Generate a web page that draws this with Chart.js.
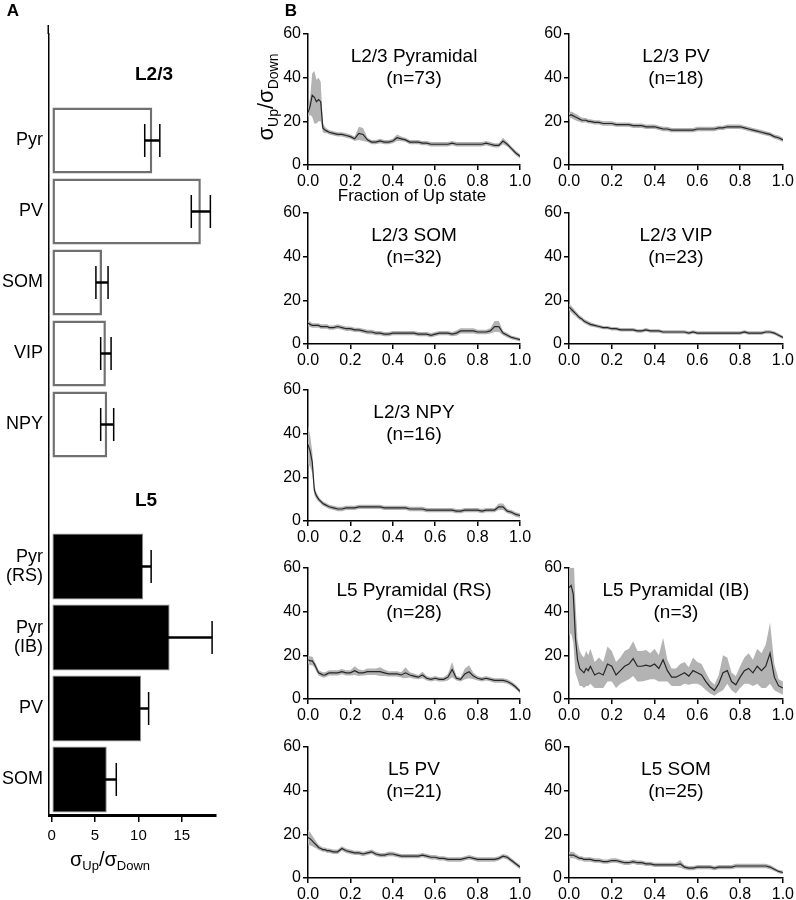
<!DOCTYPE html>
<html>
<head>
<meta charset="utf-8">
<script src="https://cdn.jsdelivr.net/npm/chart.js@4.4.1/dist/chart.umd.min.js"></script>
<style>
  html, body { margin: 0; padding: 0; background: #fff; }
  #wrap { position: relative; width: 796px; height: 900px; overflow: hidden; background: #fff; }
  #wrap canvas { position: absolute; }
</style>
</head>
<body>
<div id="wrap"></div>
<script>
const FONT = '"Liberation Sans", Arial, Helvetica, sans-serif';

// ---- panel A: mean sigma ratio per cell type ----
const l23Cells = ['Pyr', 'PV', 'SOM', 'VIP', 'NPY'];
const l23Ratio = [11.6, 17.2, 5.8, 6.25, 6.4];
const l23Sem = [0.87, 1.1, 0.7, 0.6, 0.75];
const l5Cells = [['Pyr', '(RS)'], ['Pyr', '(IB)'], 'PV', 'SOM'];
const l5Ratio = [10.55, 13.6, 10.3, 6.35];
const l5Sem = [0.92, 4.9, 0.88, 1.1];
const groupNames = ['L2/3', 'L5'];
const ratioTicks = [0, 5, 10, 15];

// ---- panel B: ratio along the Up state ----
const fraction = [0, 0.01, 0.02, 0.03, 0.04, 0.05, 0.06, 0.07, 0.08, 0.09, 0.10,
  0.12, 0.14, 0.16, 0.18, 0.20, 0.22, 0.24, 0.26, 0.28, 0.30,
  0.32, 0.34, 0.36, 0.38, 0.40, 0.42, 0.44, 0.46, 0.48, 0.50,
  0.52, 0.54, 0.56, 0.58, 0.60, 0.62, 0.64, 0.66, 0.68, 0.70,
  0.72, 0.74, 0.76, 0.78, 0.80, 0.82, 0.84, 0.86, 0.88, 0.90,
  0.92, 0.94, 0.96, 0.98, 1.00];
const fractionTicks = [0, 0.2, 0.4, 0.6, 0.8, 1.0];
const sigmaTicks = [0, 10, 20, 30, 40, 50, 60];

const pyrMean = [24, 27, 32, 31, 29, 30, 29, 17, 16, 15.5, 15,
  14.5, 14, 14, 13.5, 13, 12, 14.5, 14, 11.5, 10.5,
  10.5, 11, 10.5, 10.5, 11, 12.5, 12, 11.5, 10.5, 10.5,
  10.5, 10, 10, 9.5, 9.5, 9.5, 9.5, 9.5, 10, 9.5,
  9.5, 9.5, 9.5, 9.5, 9.5, 9.5, 10, 9.5, 9, 9,
  11, 9.5, 7.5, 5.5, 4];
const pyrSem = [2, 4, 10, 12, 10, 10, 9, 2, 1.5, 1, 1,
  1, 1, 1, 1, 1, 1, 3, 3, 1, 1,
  1, 1, 1, 1, 1, 1.5, 1, 1, 1, 1,
  1, 1, 1, 1, 1, 1, 1, 1, 1, 1,
  1, 1, 1, 1, 1, 1, 1, 1, 1, 1,
  1.5, 1, 1, 1, 1];

const pvMean = [22.5, 23, 22.5, 22, 21.5, 21, 20.5, 20.5, 20.5, 20, 20,
  19.5, 19.5, 19, 19, 19, 18.5, 18.5, 18.5, 18.5, 18,
  18, 18, 17.5, 17.5, 17.5, 17, 16.5, 16.5, 16, 16,
  16, 16, 16, 16, 16.5, 16.5, 16.5, 16.5, 16.5, 17,
  17, 17.5, 17.5, 17.5, 17.5, 17, 16.5, 16, 15.5, 15,
  14.5, 14, 13, 12.5, 11.5];
const pvSem = [1.5, 1.5, 1.5, 1.5, 1.5, 1.2, 1.2, 1, 1, 1, 1,
  1, 1, 1, 1, 1, 1, 1, 1, 1, 1,
  1, 1, 1, 1, 1, 1, 1, 1, 1, 1,
  1, 1, 1, 1, 1, 1, 1, 1, 1, 1,
  1, 1, 1, 1, 1, 1, 1, 1, 1, 1,
  1, 1, 1, 1, 1];

const somMean = [9.5, 9, 8.5, 8.5, 8.5, 8.5, 8, 8, 8, 8, 7.5,
  7.5, 8, 7.5, 7, 7, 6.5, 6.5, 6, 5.5, 5.5,
  5, 5, 4.5, 4.5, 5, 5, 5, 5, 5, 5,
  4.5, 4.5, 4.5, 4, 4.5, 5, 5, 5, 4.5, 5,
  6, 6, 6, 6, 5.5, 5.5, 5.5, 6, 8, 8,
  5, 4, 3, 2.5, 2];
const somSem = [1.5, 1.2, 1, 1, 1, 1, 1, 1, 1, 1, 1,
  1, 1, 1, 1, 1, 1, 1, 1, 1, 1,
  1, 1, 1, 1, 1, 1, 1, 1, 1, 1,
  1, 1, 1, 1, 1, 1, 1, 1, 1, 1.2,
  1.2, 1.2, 1.2, 1.2, 1, 1, 1, 1.2, 2.5, 2.5,
  1, 1, 0.8, 0.8, 0.8];

const vipMean = [17, 16, 15, 14, 13, 12, 11.5, 10.5, 10, 9.5, 9,
  8.5, 8, 7.5, 7.5, 7, 7, 6.5, 6.5, 6.5, 6.5,
  6, 6, 6.5, 6, 6, 6, 5.5, 5.5, 5.5, 5.5,
  5.5, 5.5, 5, 5.5, 5, 5, 5, 5, 5, 5,
  5, 5, 5, 5, 5, 5.5, 5, 5, 5, 5,
  5.5, 5.5, 5, 4, 3];
const vipSem = [1.5, 1.5, 1.5, 1.2, 1.2, 1, 1, 1, 1, 1, 1,
  0.8, 0.8, 0.8, 0.8, 0.8, 0.8, 0.8, 0.8, 0.8, 0.8,
  0.8, 0.8, 0.8, 0.8, 0.8, 0.8, 0.8, 0.8, 0.8, 0.8,
  0.8, 0.8, 0.8, 0.8, 0.8, 0.8, 0.8, 0.8, 0.8, 0.8,
  0.8, 0.8, 0.8, 0.8, 0.8, 0.8, 0.8, 0.8, 0.8, 0.8,
  0.8, 0.8, 0.8, 0.8, 0.8];

const npyMean = [35, 32, 27, 14, 11.5, 10, 9, 8, 7.5, 7, 6.5,
  6, 5.5, 5.5, 6, 6, 6, 6.5, 6.5, 6.5, 6.5,
  6.5, 6.5, 6, 6, 6, 6, 6, 6, 5.5, 5.5,
  5.5, 5.5, 5, 5, 5, 5, 5, 5, 5, 4.5,
  4.5, 5, 5, 5, 5, 4.5, 5, 5, 5, 6.5,
  6.5, 4.5, 4, 3, 2.5];
const npySem = [9, 7, 5, 2, 1.5, 1.2, 1, 1, 1, 1, 1,
  1, 1, 1, 1, 1, 1, 1, 1, 1, 1,
  1, 1, 1, 1, 1, 1, 1, 1, 1, 1,
  1, 1, 1, 1, 1, 1, 1, 1, 1, 1,
  1, 1, 1, 1, 1, 1, 1, 1, 1, 1.5,
  1.5, 1, 1, 1, 1];

const rsMean = [18, 17.5, 17.5, 16, 14, 12, 11.5, 11, 11, 11.5, 12,
  12, 12, 12.5, 12, 12, 13, 12, 12, 12.5, 12.5,
  12.5, 12.5, 12, 11.5, 11.5, 11.5, 11, 12, 11, 10.5,
  10, 11, 9.5, 9, 9.5, 9, 9, 10, 13.5, 9.5,
  9, 11.5, 12.5, 10.5, 9.5, 9, 9.5, 9, 8.5, 8.5,
  8.5, 8, 7, 5.5, 3.5];
const rsSem = [2, 2, 2, 1.5, 1.5, 1.2, 1.2, 1.2, 1.2, 1.2, 1.2,
  1.2, 1.2, 1.2, 1.2, 1.2, 2, 1.5, 1.2, 1.5, 1.5,
  1.5, 2, 1.5, 1.2, 1.2, 1.2, 1.2, 2.5, 1.2, 1.2,
  1, 1.5, 1, 1, 1, 1, 1, 1.5, 3.5, 1,
  1, 2.5, 3, 1.5, 1, 1, 1, 1, 1, 1,
  1, 1, 1, 1, 1];

const ibMean = [51, 52, 48, 28, 18, 14, 13, 12, 14, 13, 15,
  11, 12, 11, 16, 15, 11, 13, 15, 16, 18.5,
  15, 15, 15.5, 15, 16, 14, 18, 13, 10, 10,
  11, 12, 10.5, 13, 12, 11, 8, 5.5, 4, 7,
  12, 13, 8, 6.5, 10, 13, 14, 12, 15, 13,
  15, 21, 10, 6, 5];
const ibSem = [22, 22, 22, 16, 9, 8, 7, 7, 8, 7, 8,
  6, 7, 6, 8, 7, 6, 6, 7, 7, 8,
  7, 7, 7, 6, 7, 6, 10, 5, 4, 4,
  5, 5, 4, 6, 5, 5, 4, 3, 2.5, 4,
  8, 6, 4, 4, 5, 6, 7, 6, 8, 8,
  10, 14, 6, 3, 3];

const l5pvMean = [18.5, 18, 17, 16, 15, 14, 13.5, 13, 13, 12.5, 12.5,
  12, 12, 13.5, 12.5, 12, 11.5, 11.5, 11, 11.5, 12,
  11, 10.5, 10.5, 11, 11, 10.5, 10, 10, 10, 10,
  10, 10.5, 10, 9.5, 9.5, 9, 9, 8.5, 8.5, 8.5,
  8.5, 9, 9.5, 9, 8.5, 8.5, 8.5, 8.5, 8.5, 9,
  10, 9.5, 8, 6.5, 5];
const l5pvSem = [3.5, 3, 2.5, 2, 1.5, 1.2, 1, 1, 1, 1, 1,
  1, 1, 1, 1, 1, 1, 1, 1, 1, 1,
  1, 1, 1, 1, 1, 1, 1, 1, 1, 1,
  1, 1, 1, 1, 1, 1, 1, 1, 1, 1,
  1, 1, 1, 1, 1, 1, 1, 1, 1, 1,
  1, 1, 1, 1, 1];

const l5somMean = [10.5, 10.5, 10.5, 10, 9.5, 9, 9, 8.5, 8.5, 8.5, 8.5,
  8, 8, 7.5, 7.5, 8, 8, 7.5, 7, 7, 7.5,
  7, 7, 6.5, 6.5, 6, 6, 6, 6, 6, 6,
  6.5, 5, 4.5, 4.5, 5, 5, 5, 5, 4.5, 5,
  5, 5, 5, 5.5, 5.5, 5.5, 5.5, 5.5, 5.5, 5.5,
  5.5, 5, 4, 3, 2.5];
const l5somSem = [1.5, 1.5, 1.5, 1.2, 1.2, 1, 1, 1, 1, 1, 1,
  1, 1, 1, 1, 1, 1, 1, 1, 1, 1,
  1, 1, 1, 1, 1, 1, 1, 1, 1, 1,
  1.8, 1, 1, 1, 1, 1, 1, 1, 1, 1,
  1, 1, 1, 1, 1, 1, 1, 1, 1, 1,
  1, 1, 0.8, 0.8, 0.8];

const cells = [
  { title: 'L2/3 Pyramidal', n: 73, mean: pyrMean, sem: pyrSem, col: 0, row: 0 },
  { title: 'L2/3 PV', n: 18, mean: pvMean, sem: pvSem, col: 1, row: 0 },
  { title: 'L2/3 SOM', n: 32, mean: somMean, sem: somSem, col: 0, row: 1 },
  { title: 'L2/3 VIP', n: 23, mean: vipMean, sem: vipSem, col: 1, row: 1 },
  { title: 'L2/3 NPY', n: 16, mean: npyMean, sem: npySem, col: 0, row: 2 },
  { title: 'L5 Pyramidal (RS)', n: 28, mean: rsMean, sem: rsSem, col: 0, row: 3 },
  { title: 'L5 Pyramidal (IB)', n: 3, mean: ibMean, sem: ibSem, col: 1, row: 3 },
  { title: 'L5 PV', n: 21, mean: l5pvMean, sem: l5pvSem, col: 0, row: 4 },
  { title: 'L5 SOM', n: 25, mean: l5somMean, sem: l5somSem, col: 1, row: 4 }
];

Chart.defaults.font.family = FONT;
Chart.defaults.color = '#000';

const wrap = document.getElementById('wrap');
function addCanvas(left, top, w, h) {
    const c = document.createElement('canvas');
    c.width = w;
    c.height = h;
    c.style.left = left + 'px';
    c.style.top = top + 'px';
    c.style.width = w + 'px';
    c.style.height = h + 'px';
    wrap.appendChild(c);
    return c;
}

// sigma_Up / sigma_Down with subscripts
function drawRatioLabel(ctx, x, y, size, rotate) {
    const big = `${size}px ${FONT}`;
    const small = `${Math.round(size * 0.64)}px ${FONT}`;
    const parts = [['σ', big, 0], ['Up', small, size * 0.32], ['/', big, 0], ['σ', big, 0], ['Down', small, size * 0.32]];
    ctx.save();
    ctx.translate(x, y);
    if (rotate) ctx.rotate(-Math.PI / 2);
    let w = 0;
    parts.forEach(p => { ctx.font = p[1]; w += ctx.measureText(p[0]).width; });
    let cx = -w / 2;
    ctx.fillStyle = '#000';
    ctx.textAlign = 'left';
    ctx.textBaseline = 'middle';
    parts.forEach(p => {
        ctx.font = p[1];
        ctx.fillText(p[0], cx, p[2]);
        cx += ctx.measureText(p[0]).width;
    });
    ctx.restore();
}

function drawText(ctx, text, x, y, font) {
    ctx.save();
    ctx.font = font;
    ctx.fillStyle = '#000';
    ctx.textAlign = 'center';
    ctx.textBaseline = 'middle';
    ctx.fillText(text, x, y);
    ctx.restore();
}

// ---------------- panel A ----------------
const barLabels = ['', ...l23Cells, '', ...l5Cells];
const barValues = [null, ...l23Ratio, null, ...l5Ratio];
const barErrors = [null, ...l23Sem, null, ...l5Sem];
const isL23 = barLabels.map((_, i) => i > 0 && i <= l23Cells.length);

const panelA = {
    id: 'panelA',
    afterDatasetsDraw(chart) {
        const { ctx, scales: { x } } = chart;
        const meta = chart.getDatasetMeta(0);
        ctx.save();
        meta.data.forEach((bar, i) => {
            const v = barValues[i];
            if (v == null) return;
            const lo = x.getPixelForValue(v - barErrors[i]);
            const hi = x.getPixelForValue(v + barErrors[i]);
            const cy = bar.y;
            ctx.strokeStyle = '#000';
            ctx.lineWidth = 2.5;
            ctx.beginPath();
            ctx.moveTo(lo, cy);
            ctx.lineTo(hi, cy);
            ctx.stroke();
            ctx.lineWidth = 1.5;
            ctx.beginPath();
            ctx.moveTo(lo, cy - 16.5);
            ctx.lineTo(lo, cy + 16.5);
            ctx.moveTo(hi, cy - 16.5);
            ctx.lineTo(hi, cy + 16.5);
            ctx.stroke();
        });
        ctx.restore();
    },
    afterDraw(chart) {
        const { ctx, chartArea, scales: { y } } = chart;
        // axis line runs a little above the first slot
        ctx.save();
        ctx.strokeStyle = '#000';
        ctx.lineWidth = 1.5;
        ctx.beginPath();
        ctx.moveTo(chartArea.left - 0.75, 25);
        ctx.lineTo(chartArea.left - 0.75, chartArea.top);
        ctx.stroke();
        ctx.restore();

        const slots = [0, l23Cells.length + 1];
        const xs = [154, 146];
        groupNames.forEach((g, k) => {
            drawText(ctx, g, xs[k], y.getPixelForValue(slots[k]) + 5, `bold 19px ${FONT}`);
        });
        drawText(ctx, 'A', 13, 11, `bold 17px ${FONT}`);
        drawRatioLabel(ctx, 110, chartArea.bottom + 45, 20, false);
    }
};

new Chart(addCanvas(0, 0, 235, 900), {
    type: 'bar',
    data: {
        labels: barLabels,
        datasets: [{
            data: barValues,
            backgroundColor: isL23.map(w => w ? '#ffffff' : '#000000'),
            borderColor: isL23.map(w => w ? '#707070' : '#8a8a8a'),
            borderWidth: isL23.map(w => w ? 2.5 : 1),
            borderSkipped: false,
            barPercentage: 0.93,
            categoryPercentage: 1
        }]
    },
    options: {
        indexAxis: 'y',
        responsive: false,
        animation: false,
        events: [],
        layout: { padding: { left: 0, right: 19, top: 34, bottom: 55 } },
        plugins: { legend: { display: false }, tooltip: { enabled: false } },
        scales: {
            x: {
                type: 'linear',
                min: -0.31,
                max: 18.95,
                afterBuildTicks: s => { s.ticks = ratioTicks.map(v => ({ value: v })); },
                afterFit: s => { s.height = 30; },
                border: { display: true, width: 3, color: '#000' },
                grid: { display: true, drawOnChartArea: false, drawTicks: true, tickLength: 7, color: '#000', lineWidth: 1.5 },
                ticks: { color: '#000', font: { size: 15 }, padding: 5, maxRotation: 0 }
            },
            y: {
                type: 'category',
                afterFit: s => { s.width = 49; },
                border: { display: true, width: 1.5, color: '#000' },
                grid: { display: false, drawTicks: false },
                ticks: { color: '#000', font: { size: 18, lineHeight: 1.1 }, padding: 6, autoSkip: false }
            }
        }
    },
    plugins: [panelA]
});

// ---------------- panel B ----------------
const colLeft = [240, 520];
const colWidth = [300, 276];
const axisWidth = [68, 49];
const padRight = [20, 13];
const rowTop = [34, 213, 390, 568, 747];
const plotH = 131;
const xAxisH = 24;

cells.forEach((cell, k) => {
    const first = k === 0;
    const canvasTop = first ? 0 : rowTop[cell.row] - 20;
    const padTop = rowTop[cell.row] - canvasTop;
    const h = first ? 210 : 176;
    const padBottom = h - padTop - plotH - xAxisH;

    const meanPts = cell.mean.map((v, i) => ({ x: fraction[i], y: v }));
    const hiPts = cell.mean.map((v, i) => ({ x: fraction[i], y: v + cell.sem[i] }));
    const loPts = cell.mean.map((v, i) => ({ x: fraction[i], y: v - cell.sem[i] }));

    const titlePlugin = {
        id: 'cellTitle',
        afterDraw(chart) {
            const { ctx, chartArea } = chart;
            const cx = (chartArea.left + chartArea.right) / 2;
            drawText(ctx, cell.title, cx, chartArea.top + 23, `19px ${FONT}`);
            drawText(ctx, `(n=${cell.n})`, cx, chartArea.top + 45, `19px ${FONT}`);
            if (first) {
                drawText(ctx, 'B', 51, 11, `bold 17px ${FONT}`);
                drawRatioLabel(ctx, 27, 97, 22, true);
                drawText(ctx, 'Fraction of Up state', 172, chartArea.bottom + 31, `17px ${FONT}`);
            }
        }
    };

    new Chart(addCanvas(colLeft[cell.col], canvasTop, colWidth[cell.col], h), {
        type: 'line',
        data: {
            datasets: [
                { data: meanPts, borderColor: '#262626', borderWidth: 1.2, pointRadius: 0, fill: false, tension: 0 },
                { data: hiPts, borderWidth: 0, borderColor: 'rgba(0,0,0,0)', pointRadius: 0, fill: '+1', backgroundColor: '#b3b3b3', tension: 0 },
                { data: loPts, borderWidth: 0, borderColor: 'rgba(0,0,0,0)', pointRadius: 0, fill: false, tension: 0 }
            ]
        },
        options: {
            responsive: false,
            animation: false,
            events: [],
            layout: { padding: { left: 0, right: padRight[cell.col], top: padTop, bottom: padBottom } },
            plugins: { legend: { display: false }, tooltip: { enabled: false } },
            scales: {
                x: {
                    type: 'linear',
                    min: 0,
                    max: 1,
                    afterBuildTicks: s => { s.ticks = fractionTicks.map(v => ({ value: v })); },
                    afterFit: s => { s.height = xAxisH; },
                    border: { display: true, width: 1.5, color: '#000' },
                    grid: { display: true, drawOnChartArea: false, tickLength: 5, color: '#000', lineWidth: 1.5 },
                    ticks: { color: '#000', font: { size: 16 }, padding: 2, maxRotation: 0, callback: v => v.toFixed(1) }
                },
                y: {
                    type: 'linear',
                    min: 0,
                    max: 60,
                    afterBuildTicks: s => { s.ticks = sigmaTicks.map(v => ({ value: v })); },
                    afterFit: s => { s.width = axisWidth[cell.col]; },
                    border: { display: true, width: 1.5, color: '#000' },
                    grid: { display: true, drawOnChartArea: false, tickLength: 5, color: '#000', lineWidth: 1.5 },
                    ticks: { color: '#000', font: { size: 16 }, padding: 2, callback: v => (v % 20 === 0 ? v : '') }
                }
            }
        },
        plugins: [titlePlugin]
    });
});
</script>
</body>
</html>
